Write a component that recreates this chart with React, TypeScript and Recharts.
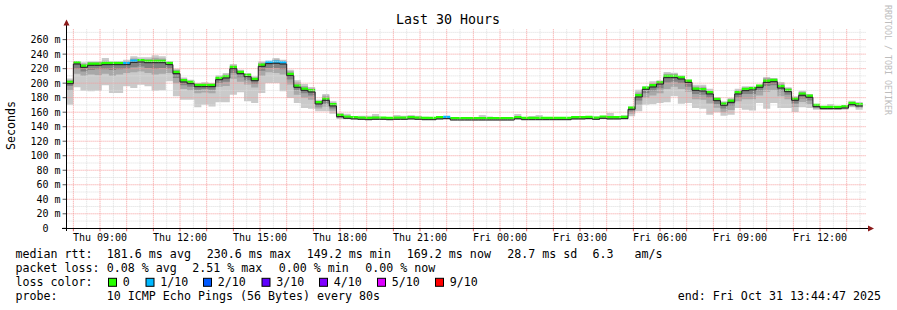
import React from 'react';
import { ComposedChart, Area, Line, XAxis, YAxis, ReferenceLine } from 'recharts';

// time in minutes since Thu 00:00
const FIRST_BIN = 464; // Thu 07:44
const BIN_MINUTES = 16;
const VIEW_START = 464.783; // Thu 07:44:47
const VIEW_END = 2264.783; // Fri 13:44:47
const Y_MAX = 275.6;

const medianRtt = [
  199.3, 226.4, 221.8, 224.6, 224.6, 225.5, 225.5, 225.5, 225.5, 228.7,
  229.2, 228.2, 228.2, 228.2, 225.5, 213.1, 201.6, 199.3, 195.2, 195.2,
  195.2, 204.8, 207.1, 219.9, 213.1, 208.9, 203.4, 223.2, 226.9, 227.4,
  226.4, 210.3, 194.3, 190.1, 187.8, 171.3, 176.4, 168.6, 153.9, 151.6,
  150.7, 150.2, 149.7, 150.2, 150.2, 149.7, 150.2, 150.2, 150.7, 150.2,
  149.7, 149.7, 150.7, 151.1, 149.3, 149.3, 149.3, 149.3, 149.3, 149.3,
  149.3, 149.3, 149.3, 150.9, 149.7, 149.7, 149.7, 149.7, 149.7, 149.7,
  149.7, 150.7, 150.7, 151.1, 150.2, 151.6, 150.7, 150.7, 151.1, 164.0,
  180.9, 191.5, 194.7, 198.8, 207.6, 207.6, 205.7, 201.1, 190.1, 189.2,
  185.1, 175.9, 169.5, 173.6, 185.1, 189.7, 190.6, 194.3, 201.1, 202.0,
  193.3, 188.3, 176.4, 183.3, 180.5, 167.6, 164.9, 164.9, 164.9, 165.8,
  170.3, 168.6,
];

const minRtt = [
  170.3, 194.2, 189.6, 188.7, 189.6, 197.0, 186.4, 186.4, 195.6, 193.3,
  197.9, 195.6, 189.6, 190.1, 202.5, 181.9, 177.3, 177.3, 166.7, 170.4,
  168.0, 173.6, 173.6, 184.2, 187.4, 175.0, 172.6, 186.4, 200.2, 200.2,
  188.7, 179.5, 172.6, 165.8, 164.8, 161.2, 161.2, 157.9, 150.7, 150.5,
  149.8, 149.4, 149.0, 149.4, 149.4, 149.0, 149.4, 149.4, 149.9, 149.4,
  149.0, 149.0, 149.9, 150.3, 148.6, 148.6, 148.6, 148.6, 148.6, 148.6,
  148.6, 148.6, 148.6, 150.0, 149.0, 149.0, 149.0, 149.0, 149.0, 149.0,
  149.0, 149.9, 149.9, 150.3, 149.4, 150.8, 149.9, 149.9, 150.3, 154.4,
  161.2, 170.1, 171.0, 172.6, 173.6, 181.9, 171.7, 172.6, 165.8, 164.9,
  156.6, 159.8, 155.2, 156.6, 165.8, 163.5, 162.2, 172.6, 164.9, 172.6,
  165.8, 165.8, 160.3, 166.7, 165.8, 163.5, 163.0, 163.0, 163.0, 163.5,
  166.7, 163.5,
];

const p2Rtt = [
  190, 213, 210, 212, 211, 213, 210, 212, 214, 215,
  216, 214, 212, 213, 214, 200, 192, 190, 186, 187,
  186, 195, 196, 206, 202, 198, 194, 210, 215, 214,
  212, 198, 184, 180, 177, 165, 168, 162, 151.5, 151.0,
  150.2, 149.8, 149.3, 149.8, 149.8, 149.3, 149.8, 149.8, 150.2, 149.8,
  149.3, 149.3, 150.2, 150.6, 148.9, 148.9, 148.9, 148.9, 148.9, 148.9,
  148.9, 148.9, 148.9, 150.3, 149.3, 149.3, 149.3, 149.3, 149.3, 149.3,
  149.3, 150.2, 150.2, 150.6, 149.8, 151.1, 150.2, 150.2, 150.6, 158,
  170, 180, 183, 186, 192, 195, 192, 188, 178, 177,
  172, 166, 160, 163, 175, 178, 178, 183, 188, 190,
  182, 178, 167, 174, 171, 165, 163.8, 163.8, 163.8, 164.4,
  168, 166,
];

const p4Rtt = [
  196, 220, 216, 218, 219, 219, 218, 219, 220, 222,
  223, 221, 220, 221, 220, 207, 197, 195, 191, 192,
  191, 200, 202, 214, 208, 204, 199, 217, 221, 221,
  219, 205, 190, 186, 183, 168, 172, 165, 152.5, 151.3,
  150.5, 150.0, 149.5, 150.0, 150.0, 149.5, 150.0, 150.0, 150.5, 150.0,
  149.5, 149.5, 150.5, 150.9, 149.1, 149.1, 149.1, 149.1, 149.1, 149.1,
  149.1, 149.1, 149.1, 150.6, 149.5, 149.5, 149.5, 149.5, 149.5, 149.5,
  149.5, 150.5, 150.5, 150.9, 150.0, 151.4, 150.5, 150.5, 150.9, 161,
  176, 186, 189, 193, 201, 202, 200, 195, 185, 184,
  180, 171, 165, 169, 180, 185, 185, 189, 196, 197,
  189, 184, 172, 179, 176, 166.5, 164.4, 164.4, 164.4, 165.2,
  169.3, 167.5,
];

const p7Rtt = [
  201, 228, 224, 227, 227, 228, 227.5, 227.5, 228, 231,
  231.5, 230.5, 231, 231, 227.5, 215, 203.5, 201, 196.5, 197,
  196.5, 206.5, 209, 222, 215, 210.5, 205, 225.5, 228.5, 230,
  228.5, 213, 196.5, 192.5, 189.5, 173, 179, 170.5, 155, 152.5,
  151.5, 150.8, 150.5, 151.0, 150.8, 150.3, 150.8, 150.8, 151.3, 150.8,
  150.3, 150.2, 151.2, 151.6, 149.8, 149.7, 149.7, 149.7, 150.0, 149.9,
  149.7, 149.7, 149.7, 151.3, 150.2, 150.3, 150.3, 150.2, 150.2, 150.3,
  150.3, 151.2, 151.2, 151.6, 150.9, 152.0, 151.5, 151.3, 151.8, 165.5,
  183, 193, 197, 200.5, 210, 210, 207.5, 202.5, 192, 191.5,
  187, 177.5, 171.5, 175.5, 187.5, 191.5, 192.5, 196, 204, 204,
  196, 190.5, 178.5, 185.5, 182.5, 168.5, 165.2, 165.5, 165.3, 166.2,
  171.5, 170,
];

const p9Rtt = [
  204, 229.5, 227, 229, 229, 231, 229, 229, 230.5, 234,
  233, 233, 235, 234, 229, 218, 206, 203, 198.5, 199.5,
  198.5, 209, 212, 224, 217, 212.5, 207.5, 228, 229.5, 232.5,
  231, 216.5, 201, 196, 192.5, 175.5, 183, 173, 157, 154,
  152.5, 151.5, 152.0, 154.0, 151.3, 151.0, 152.0, 152.5, 152.5, 151.5,
  151.0, 150.8, 152.0, 152.3, 150.6, 150.3, 150.3, 150.3, 152.0, 151.5,
  150.3, 150.3, 150.3, 153.0, 150.8, 151.5, 152.0, 150.8, 150.8, 151.3,
  151.3, 151.8, 152.0, 152.3, 152.0, 152.6, 154.0, 152.5, 153.5, 167,
  187, 194.5, 200, 202.5, 213, 213, 209.5, 204, 195.5, 195,
  190, 179.5, 173.5, 178, 190.5, 194, 194.5, 197, 207, 206,
  199.5, 193, 180.5, 188, 184, 170, 165.5, 167, 166, 166.5,
  173.5, 172,
];

const maxRtt = [
  206.5, 230.1, 228.7, 230.1, 230.1, 234.7, 230.1, 230.1, 232.4, 237.0,
  235.6, 235.6, 238.3, 237.0, 230.6, 219.9, 207.8, 204.8, 200.2, 201.1,
  200.2, 210.8, 214.0, 226.4, 218.6, 214.0, 209.4, 230.1, 230.6, 234.7,
  232.4, 218.6, 203.9, 198.8, 194.7, 177.3, 185.1, 175.0, 158.9, 158.0,
  154.4, 155.0, 155.0, 157.5, 152.0, 152.0, 156.3, 155.2, 156.3, 155.0,
  153.8, 151.5, 153.0, 153.4, 153.0, 151.5, 151.0, 151.0, 156.3, 154.0,
  151.0, 151.0, 151.0, 157.5, 151.5, 154.7, 156.0, 152.0, 152.0, 153.0,
  153.0, 152.9, 153.0, 153.5, 154.0, 153.5, 158.9, 154.0, 155.7, 168.0,
  191.0, 195.6, 202.5, 203.9, 215.4, 214.5, 210.8, 204.8, 197.9, 197.9,
  192.4, 180.5, 175.0, 179.6, 192.4, 195.6, 195.6, 197.9, 208.5, 207.1,
  201.6, 194.3, 181.9, 189.7, 185.1, 171.3, 165.8, 171.3, 166.7, 166.7,
  175.9, 174.1,
];

// packet loss per bin, in tenths
const lossTenths = [
  0, 0, 0, 0, 0, 0, 0, 0, 1, 1,
  0, 0, 0, 0, 0, 0, 0, 0, 0, 0,
  0, 0, 0, 0, 0, 0, 0, 0, 1, 1,
  1, 0, 0, 0, 0, 0, 0, 0, 0, 0,
  0, 0, 0, 0, 0, 0, 0, 0, 0, 0,
  0, 0, 0, 1, 0, 0, 0, 0, 0, 0,
  0, 0, 0, 0, 0, 0, 0, 0, 0, 0,
  0, 0, 0, 0, 0, 0, 0, 0, 0, 0,
  0, 0, 0, 0, 0, 0, 0, 0, 0, 0,
  0, 0, 0, 0, 0, 0, 0, 0, 0, 0,
  0, 0, 0, 0, 0, 0, 0, 0, 0, 0,
  0, 0,
];

const lossLegend = [
  { label: '0', color: '#26ff00', x: 108.5 },
  { label: '1/10', color: '#00b8ff', x: 146 },
  { label: '2/10', color: '#0059ff', x: 203.5 },
  { label: '3/10', color: '#5e00ff', x: 262 },
  { label: '4/10', color: '#7e00ff', x: 319.5 },
  { label: '5/10', color: '#dd00ff', x: 377.5 },
  { label: '9/10', color: '#ff0000', x: 435.5 },
];

const statsLine1 = [
  { text: 'median rtt:', x: 15.5 },
  { text: '181.6 ms avg', x: 106.8 },
  { text: '230.6 ms max', x: 206.8 },
  { text: '149.2 ms min', x: 306.8 },
  { text: '169.2 ms now', x: 406.8 },
  { text: '28.7 ms sd', x: 507.2 },
  { text: '6.3', x: 592.5 },
  { text: 'am/s', x: 634.5 },
];
const statsLine2 = [
  { text: 'packet loss:', x: 15.5 },
  { text: '0.08 % avg', x: 106.8 },
  { text: '2.51 % max', x: 192.2 },
  { text: '0.00 % min', x: 278.8 },
  { text: '0.00 % now', x: 365.2 },
];

const MONO = "'DejaVu Sans Mono', monospace";

const rows = medianRtt.flatMap((med, k) => {
  const v = {
    med,
    lo: minRtt[k],
    q2: p2Rtt[k],
    q4: p4Rtt[k],
    q7: p7Rtt[k],
    q9: p9Rtt[k],
    hi: maxRtt[k],
    loss: lossTenths[k],
  };
  const t0 = FIRST_BIN + k * BIN_MINUTES;
  return [
    { t: t0, ...v },
    { t: t0 + BIN_MINUTES, ...v },
  ];
});

const hourTicks: number[] = [];
for (let t = 480; t <= VIEW_END; t += 60) hourTicks.push(t);
const halfHourTicks: number[] = [];
for (let t = 510; t <= VIEW_END; t += 60) halfHourTicks.push(t);
const yMajor: number[] = [];
for (let v = 0; v <= 260; v += 20) yMajor.push(v);
const yMinor: number[] = [];
for (let v = 10; v <= 270; v += 20) yMinor.push(v);

const pad = (n: number) => (n < 10 ? '0' + n : '' + n);
const fmtTime = (t: number) => {
  if (t % 180 !== 0) return '';
  const day = t >= 1440 ? 'Fri' : 'Thu';
  const h = Math.floor((t % 1440) / 60);
  return `${day} ${pad(h)}:00`;
};
const fmtY = (v: number) => (v === 0 ? '0\u00a0\u00a0' : `${v} m`);

const BAND_LOW = 0.6;
const BAND_HIGH = 4.0;

const MINOR_GRID = '#dcdcdc';
const MAJOR_GRID = '#f59a9a';

export default function App() {
  return (
    <div style={{ position: 'absolute', left: 0, top: 0, width: 897, height: 310, background: '#fff' }}>
      <ComposedChart
        width={897}
        height={310}
        data={rows}
        margin={{ top: 28.3, right: 30.4, bottom: 61.7, left: 0 }}
      >
        <XAxis
          dataKey="t"
          type="number"
          domain={[VIEW_START, VIEW_END]}
          allowDataOverflow
          ticks={hourTicks}
          interval={0}
          tickFormatter={fmtTime}
          axisLine={false}
          tickLine={{ stroke: '#e06060' }}
          tickSize={3}
          tickMargin={3}
          height={20}
          tick={{ fontFamily: MONO, fontSize: 10, fill: '#000' }}
        />
        <YAxis
          type="number"
          domain={[0, Y_MAX]}
          allowDataOverflow
          ticks={yMajor}
          interval={0}
          tickFormatter={fmtY}
          axisLine={false}
          tickLine={{ stroke: '#555' }}
          tickSize={4}
          tickMargin={2}
          width={66.6}
          tick={{ fontFamily: MONO, fontSize: 10, fill: '#000' }}
        />
        {halfHourTicks.map((t) => (
          <ReferenceLine key={'vx' + t} x={t} stroke={MINOR_GRID} strokeDasharray="1 1" />
        ))}
        {yMinor.map((v) => (
          <ReferenceLine key={'hy' + v} y={v} stroke={MINOR_GRID} strokeDasharray="1 1" />
        ))}
        {hourTicks.map((t) => (
          <ReferenceLine key={'vh' + t} x={t} stroke={MAJOR_GRID} strokeDasharray="1 1" />
        ))}
        {yMajor.filter((v) => v > 0).map((v) => (
          <ReferenceLine key={'hm' + v} y={v} stroke={MAJOR_GRID} strokeDasharray="1 1" />
        ))}
        <Area
          dataKey={(d: any) => [d.lo, d.hi]}
          type="linear"
          fill="#cacaca"
          fillOpacity={1}
          stroke="none"
          isAnimationActive={false}
          activeDot={false}
        />
        <Area
          dataKey={(d: any) => [d.q2, d.q9]}
          type="linear"
          fill="#a8a8a8"
          fillOpacity={1}
          stroke="none"
          isAnimationActive={false}
          activeDot={false}
        />
        <Area
          dataKey={(d: any) => [d.q4, d.q7]}
          type="linear"
          fill="#828282"
          fillOpacity={1}
          stroke="none"
          isAnimationActive={false}
          activeDot={false}
        />
        <Line
          dataKey="med"
          type="linear"
          stroke="#202020"
          strokeWidth={1}
          dot={false}
          activeDot={false}
          isAnimationActive={false}
        />
        <Area
          dataKey={(d: any) => (d.loss === 0 ? [d.med + BAND_LOW, d.med + BAND_HIGH] : null)}
          type="linear"
          fill="#26ff00"
          fillOpacity={1}
          stroke="none"
          isAnimationActive={false}
          activeDot={false}
        />
        <Area
          dataKey={(d: any) => (d.loss === 1 ? [d.med + BAND_LOW, d.med + BAND_HIGH] : null)}
          type="linear"
          fill="#00b8ff"
          fillOpacity={1}
          stroke="none"
          isAnimationActive={false}
          activeDot={false}
        />
      </ComposedChart>
      <svg
        width={897}
        height={310}
        style={{ position: 'absolute', left: 0, top: 0, pointerEvents: 'none' }}
        fontFamily={MONO}
      >
        {/* axes with arrows */}
        <line x1={66.5} y1={231} x2={66.5} y2={24} stroke="#000" strokeWidth={1} />
        <line x1={62} y1={228.5} x2={869} y2={228.5} stroke="#000" strokeWidth={1} />
        <polygon points="63.5,25.5 66.5,19.5 69.5,25.5" fill="#8b1a1a" />
        <polygon points="868,225.5 874,228.5 868,231.5" fill="#8b1a1a" />

        <text x={448} y={19.5} textAnchor="middle" dominantBaseline="central" fontSize={13.3} fill="#000">
          Last 30 Hours
        </text>
        <text
          x={11}
          y={125.5}
          textAnchor="middle"
          dominantBaseline="central"
          fontSize={11.65}
          fill="#000"
          transform="rotate(-90 11 125.5)"
        >
          Seconds
        </text>
        <text
          x={887.5}
          y={5}
          textAnchor="start"
          dominantBaseline="central"
          fontSize={8.3}
          fill="#bdbdbd"
          transform="rotate(90 887.5 5)"
        >
          RRDTOOL / TOBI OETIKER
        </text>

        {statsLine1.map((s) => (
          <text key={'a' + s.x} x={s.x} y={254.3} dominantBaseline="central" fontSize={11.65} fill="#000">
            {s.text}
          </text>
        ))}
        {statsLine2.map((s) => (
          <text key={'b' + s.x} x={s.x} y={268.3} dominantBaseline="central" fontSize={11.65} fill="#000">
            {s.text}
          </text>
        ))}
        <text x={15.5} y={282.3} dominantBaseline="central" fontSize={11.65} fill="#000">
          loss color:
        </text>
        {lossLegend.map((l) => (
          <g key={l.label}>
            <rect x={l.x} y={278.3} width={8} height={8} fill={l.color} stroke="#000" strokeWidth={1} />
            <text x={l.x + 14.3} y={282.3} dominantBaseline="central" fontSize={11.65} fill="#000">
              {l.label}
            </text>
          </g>
        ))}
        <text x={15.5} y={296.3} dominantBaseline="central" fontSize={11.65} fill="#000">
          probe:
        </text>
        <text x={106.8} y={296.3} dominantBaseline="central" fontSize={11.65} fill="#000">
          10 ICMP Echo Pings (56 Bytes) every 80s
        </text>
        <text x={677.8} y={296.3} dominantBaseline="central" fontSize={11.65} fill="#000">
          end: Fri Oct 31 13:44:47 2025
        </text>
      </svg>
    </div>
  );
}
